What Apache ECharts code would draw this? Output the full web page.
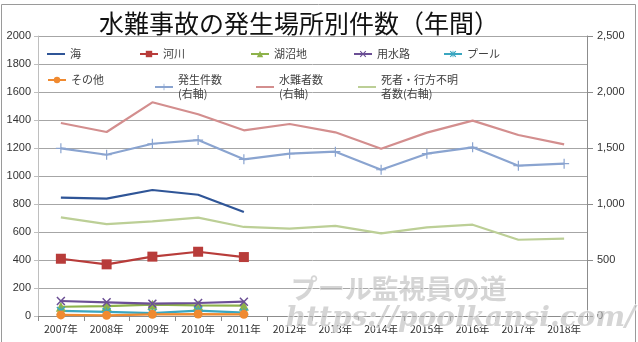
<!DOCTYPE html>
<html><head><meta charset="utf-8">
<script src="https://cdn.jsdelivr.net/npm/echarts@6/dist/echarts.min.js"></script>
<style>html,body{margin:0;padding:0;background:#fff}#c{width:638px;height:342px}</style>
</head><body><div id="c"></div>
<script>
const categories = ['2007年','2008年','2009年','2010年','2011年','2012年','2013年','2014年','2015年','2016年','2017年','2018年'];
const umi      = [845, 838, 900, 866, 743];
const kasen    = [409, 369, 424, 459, 421];
const koshou   = [66, 71, 81, 76, 74];
const yousui   = [107, 98, 88, 93, 102];
const pool     = [36, 29, 21, 38, 24];
const sonota   = [8, 5, 12, 14, 12];
const hassei   = [1497, 1440, 1538, 1571, 1399, 1449, 1467, 1306, 1449, 1506, 1342, 1360];
const suinan   = [1723, 1643, 1908, 1801, 1658, 1714, 1640, 1494, 1637, 1744, 1616, 1533];
const shisha   = [881, 821, 845, 878, 795, 780, 804, 738, 792, 815, 681, 690];
const leftTicks = {min: 0, max: 2000, interval: 200};
const rightTicks = {min: 0, max: 2500, interval: 500};

const FONT = '"Noto Sans CJK JP", sans-serif';
const XPATH = 'path://M0,1.2L1.2,0L5,3.8L8.8,0L10,1.2L6.2,5L10,8.8L8.8,10L5,6.2L1.2,10L0,8.8L3.8,5Z';
const ASTER = 'path://M0,1.2L1.2,0L4.4,3.2V0H5.6V3.2L8.8,0L10,1.2L6.2,5L10,8.8L8.8,10L5.6,6.8V10H4.4V6.8L1.2,10L0,8.8L3.8,5Z';
const PLUS = 'path://M4.4,0H5.6V4.4H10V5.6H5.6V10H4.4V5.6H0V4.4H4.4Z';
const LINEICON = 'path://M0,0H20V2.2H0Z';

const series = [
  {name:'海', data: umi, color:'#2f5597', symbol:'none', symbolSize:0, y:0},
  {name:'河川', data: kasen, color:'#b83c3a', symbol:'rect', symbolSize:10, y:0},
  {name:'湖沼地', data: koshou, color:'#8db24a', symbol:'triangle', symbolSize:10, y:0},
  {name:'用水路', data: yousui, color:'#6b4f95', symbol:XPATH, symbolSize:9, y:0},
  {name:'プール', data: pool, color:'#3aa6c0', symbol:ASTER, symbolSize:9, y:0},
  {name:'その他', data: sonota, color:'#f08a30', symbol:'circle', symbolSize:9, y:0},
  {name:'発生件数', data: hassei, color:'#8aa4d0', symbol:PLUS, symbolSize:10, y:1},
  {name:'水難者数', data: suinan, color:'#d38e8e', symbol:'none', symbolSize:0, y:1},
  {name:'死者・行方不明者数', data: shisha, color:'#bccf96', symbol:'none', symbolSize:0, y:1}
];
const legendLabels = {
  '発生件数':'発生件数\n(右軸)',
  '水難者数':'水難者数\n(右軸)',
  '死者・行方不明者数':'死者・行方不明\n者数(右軸)'
};
const legendPos = [[47,47],[139,47],[250,47],[353,47],[443,47],[47,73],[154,73],[256,73],[358,73]];

const chart = echarts.init(document.getElementById('c'), null, {renderer:'canvas'});
chart.setOption({
  animation: false,
  backgroundColor: '#fff',
  title: {
    text: '水難事故の発生場所別件数（年間）',
    left: 93, top: 11,
    padding: [0, 52, 0, 6],
    backgroundColor: '#fff',
    textStyle: {fontFamily: FONT, fontSize: 25, fontWeight: 'normal', color: '#111'}
  },
  legend: series.map((s, i) => ({
    data: [s.symbol === 'none' ? {name: s.name, icon: LINEICON} : s.name],
    left: legendPos[i][0], top: legendPos[i][1],
    itemWidth: 18, itemHeight: 8, itemGap: 4,
    padding: 0,
    formatter: n => legendLabels[n] || n,
    textStyle: {fontFamily: FONT, fontSize: 11, color: '#404040', lineHeight: 14}
  })),
  grid: {left: 38, right: 51, top: 36, bottom: 26},
  xAxis: {
    type: 'category', data: categories, boundaryGap: true,
    axisLine: {lineStyle: {color: '#8c8c8c', width: 1}},
    axisTick: {show: true, length: 5, lineStyle: {color: '#8c8c8c'}},
    axisLabel: {interval: 0, fontFamily: FONT, fontSize: 10.5, color: '#333', margin: 8}
  },
  yAxis: [
    {type: 'value', min: leftTicks.min, max: leftTicks.max, interval: leftTicks.interval,
     axisLine: {show: true, lineStyle: {color: '#bfbfbf'}},
     axisTick: {show: true, length: 4, lineStyle: {color: '#bfbfbf'}},
     splitLine: {lineStyle: {color: '#a6a6a6', width: 1}},
     axisLabel: {fontFamily: '"Liberation Sans", sans-serif', fontSize: 11, color: '#333', margin: 7,
       formatter: v => String(v)}},
    {type: 'value', min: rightTicks.min, max: rightTicks.max, interval: rightTicks.interval,
     position: 'right',
     axisLine: {show: true, lineStyle: {color: '#8c8c8c'}},
     axisTick: {show: true, length: 6, lineStyle: {color: '#8c8c8c'}},
     splitLine: {show: false},
     axisLabel: {fontFamily: '"Liberation Sans", sans-serif', fontSize: 11, color: '#333', margin: 10,
       formatter: v => v.toLocaleString('en-US')}}
  ],
  series: series.map(s => ({
    name: s.name, type: 'line', yAxisIndex: s.y, data: s.data,
    symbol: s.symbol, symbolSize: s.symbolSize, showSymbol: s.symbol !== 'none',
    color: s.color,
    lineStyle: {color: s.color, width: 2.2},
    itemStyle: {color: s.color},
    emphasis: {disabled: true}
  })),
  graphic: [
    {type: 'rect', shape: {x: 1.5, y: 4.5, width: 634, height: 350}, silent: true,
     style: {fill: 'none', stroke: '#9a9a9a', lineWidth: 1}, z: 100},
    {type: 'text', left: 290, top: 274, silent: true, z: 100,
     style: {text: 'プール監視員の道', font: 'bold 27px "Noto Sans CJK JP"',
       fill: 'rgba(185,185,185,0.6)', stroke: 'rgba(255,255,255,0.7)', lineWidth: 1.5}},
    {type: 'text', left: 285, top: 304, silent: true, z: 100,
     style: {text: 'https://poolkansi.com/', font: 'italic bold 28px "DejaVu Serif"',
       fill: 'rgba(185,185,185,0.6)', stroke: 'rgba(255,255,255,0.7)', lineWidth: 1.5}}
  ]
});
</script></body></html>
